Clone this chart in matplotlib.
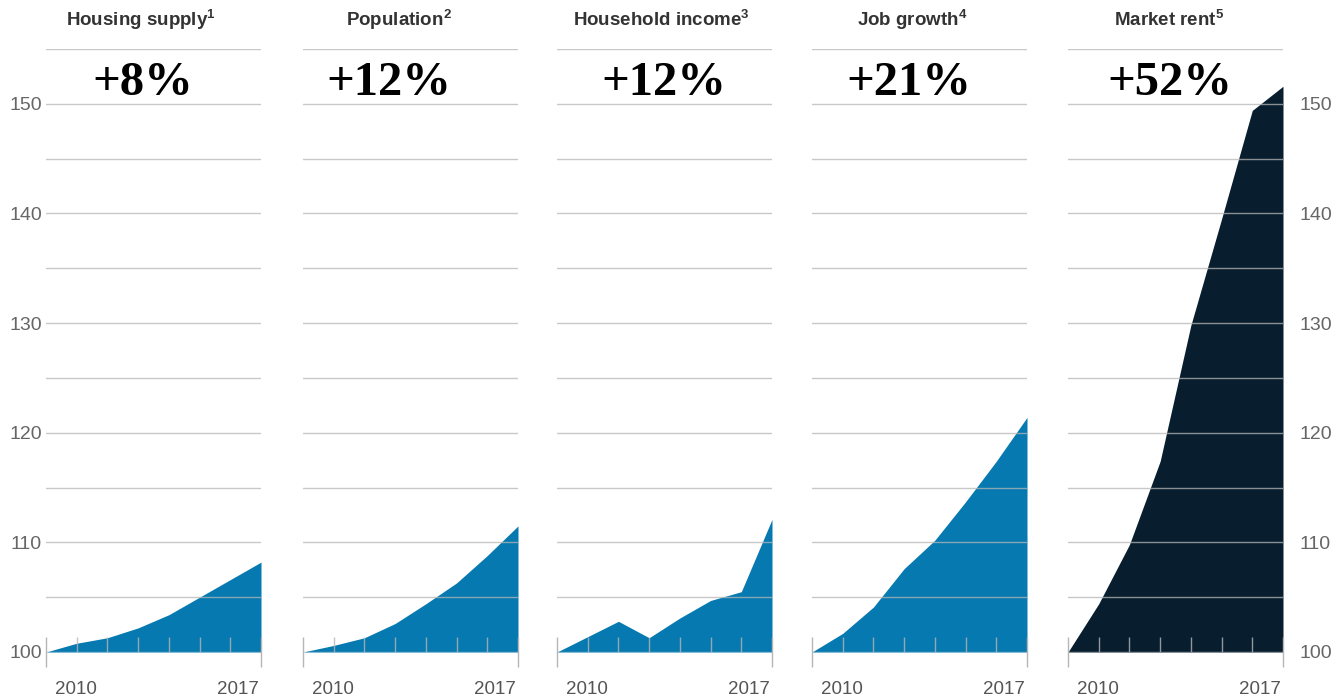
import numpy as np
import matplotlib.pyplot as plt

plt.rcParams['font.family'] = ['Liberation Sans', 'DejaVu Sans']
plt.rcParams['mathtext.fontset'] = 'custom'
plt.rcParams['mathtext.bf'] = 'Liberation Sans:bold'
plt.rcParams['mathtext.rm'] = 'Liberation Sans'

# Index values, 2010 = 100
years = list(range(2010, 2018))
titles = ['Housing supply', 'Population', 'Household income', 'Job growth', 'Market rent']
notes = ['1', '2', '3', '4', '5']
changes = ['+8%', '+12%', '+12%', '+21%', '+52%']
housing = [100, 100.8, 101.3, 102.2, 103.4, 105.0, 106.6, 108.2]
population = [100, 100.6, 101.3, 102.6, 104.4, 106.3, 108.8, 111.5]
income = [100, 101.4, 102.8, 101.3, 103.1, 104.7, 105.5, 112.1]
jobs = [100, 101.7, 104.1, 107.6, 110.2, 113.7, 117.4, 121.4]
rent = [100, 104.4, 109.8, 117.4, 129.8, 139.5, 149.4, 151.6]

series = [housing, population, income, jobs, rent]
fills = ['#0679b0', '#0679b0', '#0679b0', '#0679b0', '#081e2f']

W, H = 1342, 698
fig = plt.figure(figsize=(W / 100, H / 100), dpi=100)

# panel left edges and header centres, in pixels
lefts = [46, 303, 557, 812, 1068]
title_cx = [141, 399, 661, 912, 1169]
change_cx = [143, 389, 664, 909, 1170]
pw = 215
x = np.arange(len(years))

for i, (vals, left) in enumerate(zip(series, lefts)):
    ax = fig.add_axes([left / W, 46 / H, pw / W, 603 / H])
    ax.set_xlim(0, len(years) - 1)
    ax.set_ylim(100, 155)
    for s in ax.spines.values():
        s.set_visible(False)

    ax.fill_between(x, 100, vals, color=fills[i], lw=0, zorder=1)

    # horizontal grid on top of the area
    for g in range(100, 156, 5):
        ax.axhline(g, color='#b6b6b6', alpha=0.75, lw=1.0, zorder=2)

    # year ticks along the baseline
    ax.vlines(x[1:-1], 100, 101.37, color='#b6b6b6', alpha=0.8, lw=1.0, zorder=3)
    ax.vlines([x[0], x[-1]], 98.63, 101.37, color='#b6b6b6', lw=1.0,
              zorder=3, clip_on=False)

    ax.text(0.3, 96.6, str(years[0]), ha='left', va='center',
            fontsize=13.5, color='#555555', clip_on=False)
    ax.text(6.93, 96.6, str(years[-1]), ha='right', va='center',
            fontsize=13.5, color='#555555', clip_on=False)

    scale = (len(years) - 1) / pw
    ax.text((change_cx[i] - left) * scale, 150.8, changes[i], ha='center',
            va='baseline', fontsize=35, fontweight='bold',
            family='Liberation Serif', color='#000000')
    ax.text((title_cx[i] - left) * scale, 157.7,
            titles[i] + r'$^{\mathbf{' + notes[i] + '}}$',
            ha='center', va='center', fontsize=13.5, fontweight='bold',
            color='#333333', clip_on=False)

    ax.set_xticks([])
    ax.set_yticks(range(100, 151, 10))
    if i == 0:
        ax.tick_params(axis='y', length=0, pad=3, labelsize=14,
                       labelcolor='#666666')
    elif i == len(series) - 1:
        ax.yaxis.tick_right()
        ax.tick_params(axis='y', length=0, pad=12, labelsize=14,
                       labelcolor='#666666')
    else:
        ax.tick_params(axis='y', length=0, labelleft=False)

fig.savefig('out.png', dpi=100)
